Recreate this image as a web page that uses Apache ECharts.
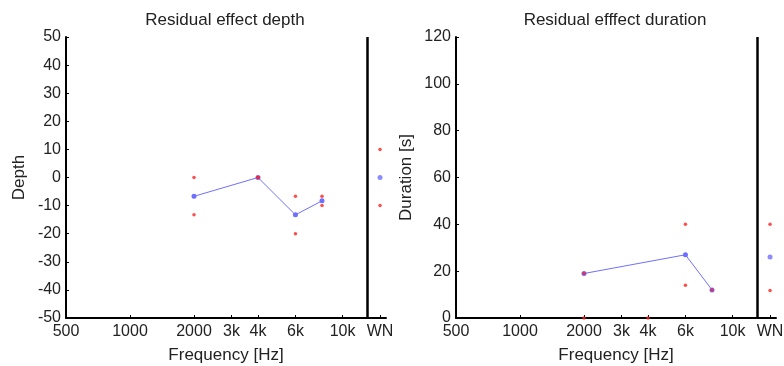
<!DOCTYPE html>
<html><head><meta charset="utf-8">
<script src="https://cdn.jsdelivr.net/npm/echarts@6/dist/echarts.min.js"></script>
<style>html,body{margin:0;padding:0;background:#fff}#c{width:784px;height:366px}</style>
</head><body><div id="c"></div>
<script>
// Frequencies (Hz); WN (white noise) placed at 15000 on the log axis
const freqTicks = [500, 1000, 2000, 3000, 4000, 6000, 10000, 15000];
const freqTickLabels = ['500', '1000', '2000', '3k', '4k', '6k', '10k', 'WN'];
const wnFreq = 15000;
const dividerFreq = 13000;

// Depth panel
const depthFreqs = [2000, 4000, 6000, 8000];
const depthMean = [-6.7, 0, -13.3, -8.3];
const depthUpper = [0, 0, -6.7, -6.7];
const depthLower = [-13.3, 0, -20, -10];
const depthWN = { mean: 0, upper: 10, lower: -10 };

// Duration panel
const durFreqs = [2000, 6000, 8000];
const durMean = [19, 27, 12];
const durBoundFreqs = [2000, 2000, 4000, 6000, 6000, 8000];
const durBounds = [19, 0, 0, 40, 14, 12];
const durWN = { mean: 26, upper: 40, lower: 11.7 };

const labelMap = {};
freqTicks.forEach((f, i) => labelMap[f] = freqTickLabels[i]);

const txt = '#222';
const font = 'Liberation Sans, Arial, sans-serif';
const blue = '#6f6fff';
const red = '#ff2020';

function xAxis(idx) {
  return {
    gridIndex: idx, type: 'log', logBase: 2, min: 500, max: 16000,
    name: 'Frequency [Hz]', nameLocation: 'middle', nameGap: 29,
    nameTextStyle: { color: txt, fontSize: 17, fontFamily: font },
    axisLine: { onZero: false, lineStyle: { color: '#000', width: 2 } },
    axisTick: { inside: true, length: 3, customValues: freqTicks, lineStyle: { color: '#000' } },
    axisLabel: { customValues: freqTicks, color: txt, fontSize: 16, fontFamily: font, margin: 6,
      formatter: v => labelMap[Math.round(v)] !== undefined ? labelMap[Math.round(v)] : '' },
    splitLine: { show: false }, minorTick: { show: false }
  };
}
function yAxis(idx, min, max, interval, name) {
  return {
    gridIndex: idx, type: 'value', min, max, interval,
    name, nameLocation: 'middle', nameGap: idx === 0 ? 38 : 41,
    nameTextStyle: { color: txt, fontSize: 17, fontFamily: font },
    axisLine: { show: true, onZero: false, lineStyle: { color: '#000', width: 2 } },
    axisTick: { show: true, inside: true, length: 3, lineStyle: { color: '#000' } },
    axisLabel: { color: txt, fontSize: 16, fontFamily: font, margin: 5 },
    splitLine: { show: false }
  };
}
function divider(idx) {
  return {
    type: 'line', xAxisIndex: idx, yAxisIndex: idx, data: [], silent: true,
    markLine: { symbol: 'none', silent: true, label: { show: false },
      lineStyle: { color: '#000', width: 2.5, type: 'solid' },
      data: [{ xAxis: dividerFreq }] }
  };
}
const redDots = (idx, pts) => ({ type: 'scatter', xAxisIndex: idx, yAxisIndex: idx, data: pts,
  symbol: 'circle', symbolSize: 3.5, itemStyle: { color: red }, z: 4 });
const blueDots = (idx, pts) => ({ type: 'scatter', xAxisIndex: idx, yAxisIndex: idx, data: pts,
  symbol: 'circle', symbolSize: 5, itemStyle: { color: blue }, z: 3 });

const depthBoundPts = [];
depthFreqs.forEach((f, i) => { depthBoundPts.push([f, depthUpper[i]]); depthBoundPts.push([f, depthLower[i]]); });
depthBoundPts.push([wnFreq, depthWN.upper], [wnFreq, depthWN.lower]);
const durBoundPts = durBoundFreqs.map((f, i) => [f, durBounds[i]]);
durBoundPts.push([wnFreq, durWN.upper], [wnFreq, durWN.lower]);

const option = {
  animation: false,
  title: [
    { text: 'Residual effect depth', left: 220, top: 7, textAlign: 'center',
      textStyle: { color: txt, fontSize: 17, fontWeight: 'normal', fontFamily: font } },
    { text: 'Residual efffect duration', left: 610, top: 7, textAlign: 'center',
      textStyle: { color: txt, fontSize: 17, fontWeight: 'normal', fontFamily: font } }
  ],
  grid: [
    { left: 66, right: 398, top: 37, bottom: 48, outerBoundsMode: 'none', containLabel: false },
    { left: 456, right: 8, top: 37, bottom: 48, outerBoundsMode: 'none', containLabel: false }
  ],
  xAxis: [xAxis(0), xAxis(1)],
  yAxis: [yAxis(0, -50, 50, 10, 'Depth'), yAxis(1, 0, 120, 20, 'Duration [s]')],
  series: [
    divider(0), divider(1),
    { type: 'line', xAxisIndex: 0, yAxisIndex: 0, data: depthFreqs.map((f, i) => [f, depthMean[i]]),
      symbol: 'circle', symbolSize: 5, showSymbol: true, itemStyle: { color: blue },
      lineStyle: { color: blue, width: 1 }, z: 3 },
    blueDots(0, [[wnFreq, depthWN.mean]]),
    redDots(0, depthBoundPts),
    { type: 'line', xAxisIndex: 1, yAxisIndex: 1, data: durFreqs.map((f, i) => [f, durMean[i]]),
      symbol: 'circle', symbolSize: 5, showSymbol: true, itemStyle: { color: blue },
      lineStyle: { color: blue, width: 1 }, z: 3 },
    blueDots(1, [[wnFreq, durWN.mean]]),
    redDots(1, durBoundPts)
  ]
};
echarts.init(document.getElementById('c'), null, { renderer: 'canvas' }).setOption(option);
</script></body></html>
